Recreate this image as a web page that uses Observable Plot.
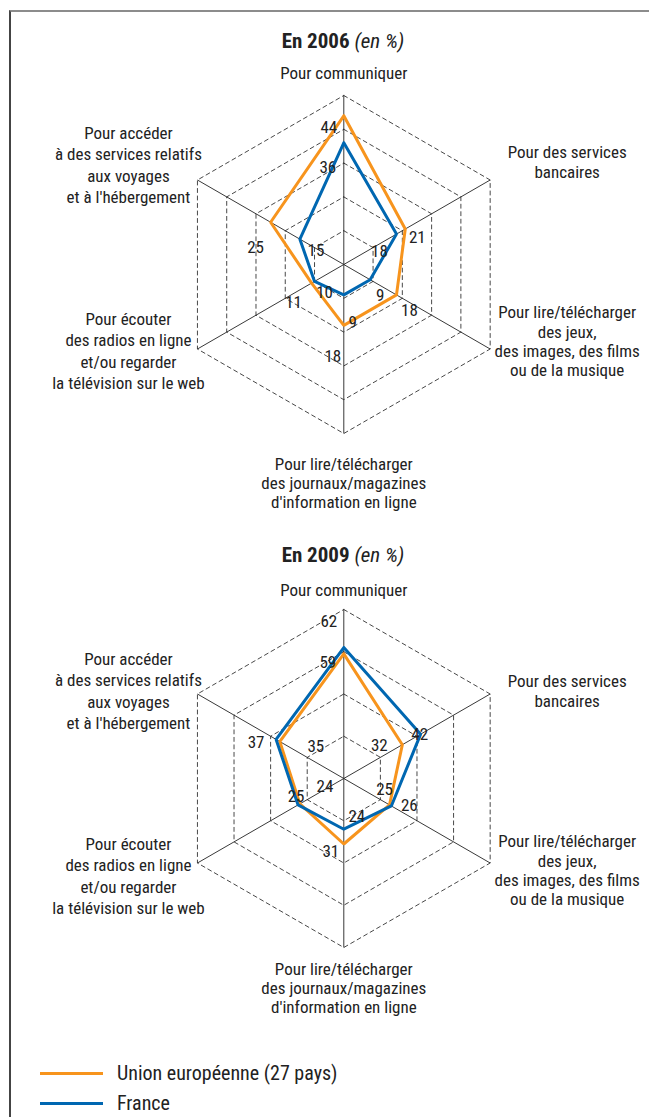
<!DOCTYPE html>
<html><head><meta charset="utf-8">
<script src="https://cdn.jsdelivr.net/npm/d3@7"></script>
<script src="https://cdn.jsdelivr.net/npm/@observablehq/plot@0.6"></script>
<style>
  html,body{margin:0;padding:0;background:#fff;}
  body{width:649px;height:1117px;position:relative;overflow:hidden;
    font-family:"Liberation Sans Narrow","Roboto Condensed","DejaVu Sans Condensed",sans-serif;color:#222;}
  .frame{position:absolute;left:9px;top:10px;width:640px;height:1107px;border-top:2px solid #8c8c8c;border-left:2px solid #444;box-sizing:border-box;}
  .chart{position:absolute;left:0;}
  .title{position:absolute;left:243px;width:200px;text-align:center;font-size:21px;line-height:24px;}
  .title b{font-weight:bold;} .title i{font-style:italic;font-weight:normal;}
  .legend{position:absolute;left:40px;font-size:20px;}
  .legend .row{position:absolute;left:0;height:24px;display:flex;align-items:center;white-space:nowrap;}
  .legend .sw{width:63px;height:3px;margin-right:14px;}
</style>
</head><body>
<div class="frame"></div>
<div id="c1" class="chart" style="top:0px"></div>
<div id="c2" class="chart" style="top:512px"></div>
<div class="title" style="top:29px"><b>En 2006</b> <i>(en %)</i></div>
<div class="title" style="top:543px"><b>En 2009</b> <i>(en %)</i></div>
<div class="legend" style="top:0">
  <div class="row" style="top:1061px"><div class="sw" style="background:#F7941D"></div>Union européenne (27 pays)</div>
  <div class="row" style="top:1091px"><div class="sw" style="background:#0067B1"></div>France</div>
</div>
<script>
// ---- Data ----
const categories = [
  "Pour communiquer",
  "Pour des services\nbancaires",
  "Pour lire/télécharger\ndes jeux,\ndes images, des films\nou de la musique",
  "Pour lire/télécharger\ndes journaux/magazines\nd'information en ligne",
  "Pour écouter\ndes radios en ligne\net/ou regarder\nla télévision sur le web",
  "Pour accéder\nà des services relatifs\naux voyages\net à l'hébergement"
];
const eu2006 = [44, 21, 18, 18, 11, 25];
const fr2006 = [36, 18, 9, 9, 10, 15];
const eu2009 = [59, 32, 25, 31, 24, 35];
const fr2009 = [62, 42, 26, 24, 25, 37];
const rings2006 = [10, 20, 30, 40, 50];
const rings2009 = [20, 40, 60, 80];
const seriesNames = ["Union européenne (27 pays)", "France"];
const colors = ["#F7941D", "#0067B1"];

// ---- Layout / style (label offsets in px) ----
const W = 649;
const FONT = '"Liberation Sans Narrow","Roboto Condensed","DejaVu Sans Condensed",sans-serif';
const catLineHeights = [1, 1.15, 1.13, 1.12, 1.27, 1.27];
const layouts = [
  { el: "#c1", H: 512, cx: 343.3, cy: 264, R: 169,
    eu: eu2006, fr: fr2006, rings: rings2006,
    catOff: [[0,-22],[77,-18],[77,-8],[0,49],[-69,1],[-69,-16]],
    euOff: [[-15,12],[12,9],[13,16],[-11,31],[-18,19],[-15,25]],
    frOff: [[-16,25],[-17,17],[10,16],[9,28],[10,11],[16,11]] },
  { el: "#c2", H: 528, cx: 343.3, cy: 266, R: 169,
    eu: eu2009, fr: fr2009, rings: rings2009,
    catOff: [[0,-19],[77,-3],[77,7],[0,40],[-69,12],[-69,-4]],
    euOff: [[-16,9],[-23,1],[-5,-15],[-13,8],[25,-17],[36,5]],
    frOff: [[-15,-26],[-1,0],[18,0],[13,-13],[-2,-8],[-20,3]] }
];

function pt(i, v) { const a = i * Math.PI / 3; return { x: v * Math.sin(a), y: v * Math.cos(a) }; }

for (const L of layouts) {
  const maxV = d3.max(L.rings);
  const k = L.R / maxV;
  const idx = d3.range(6);
  const ringData = L.rings.flatMap(v => d3.range(7).map(i => ({ ring: v, ...pt(i % 6, v) })));
  const spokes = idx.map(i => ({ i, ...pt(i, maxV) }));
  const poly = (vals, name) => d3.range(7).map(i => ({ name, v: vals[i % 6], ...pt(i % 6, vals[i % 6]) }));
  const marks = [
    Plot.line(ringData, { x: "x", y: "y", z: "ring", stroke: "#333", strokeWidth: 0.9, strokeDasharray: "4,3.5" }),
    Plot.link(spokes, { x1: () => 0, y1: () => 0, x2: "x", y2: "y", stroke: "#222", strokeWidth: 0.9 }),
    Plot.line(poly(L.eu, seriesNames[0]), { x: "x", y: "y", stroke: colors[0], strokeWidth: 3, strokeLinejoin: "miter" }),
    Plot.line(poly(L.fr, seriesNames[1]), { x: "x", y: "y", stroke: colors[1], strokeWidth: 3, strokeLinejoin: "miter" })
  ];
  idx.forEach(i => {
    const v = pt(i, maxV);
    marks.push(Plot.text([{ ...v, t: categories[i] }], { x: "x", y: "y", text: "t",
      dx: L.catOff[i][0], dy: L.catOff[i][1], fontSize: 17, lineHeight: catLineHeights[i],
      fill: "#222", fontFamily: FONT }));
    const e = pt(i, L.eu[i]);
    marks.push(Plot.text([{ ...e, t: String(L.eu[i]) }], { x: "x", y: "y", text: "t",
      dx: L.euOff[i][0], dy: L.euOff[i][1], fontSize: 17, fill: "#222", fontFamily: FONT }));
    const f = pt(i, L.fr[i]);
    marks.push(Plot.text([{ ...f, t: String(L.fr[i]) }], { x: "x", y: "y", text: "t",
      dx: L.frOff[i][0], dy: L.frOff[i][1], fontSize: 17, fill: "#222", fontFamily: FONT }));
  });
  const svg = Plot.plot({
    width: W, height: L.H, margin: 0,
    x: { domain: [-L.cx / k, (W - L.cx) / k], range: [0, W], axis: null },
    y: { domain: [-(L.H - L.cy) / k, L.cy / k], range: [L.H, 0], axis: null },
    style: { background: "transparent", fontFamily: FONT, overflow: "visible" },
    marks
  });
  document.querySelector(L.el).appendChild(svg);
}
</script>
</body></html>
